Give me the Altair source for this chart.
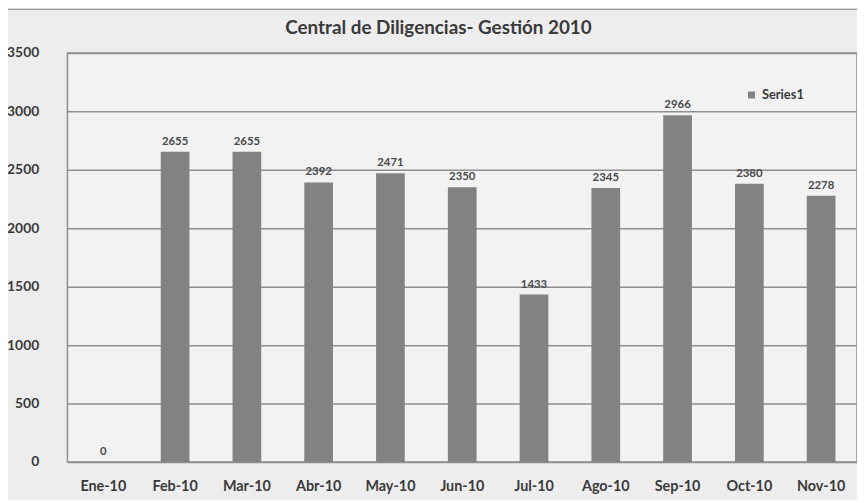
import altair as alt
import pandas as pd

months = ["Ene-10", "Feb-10", "Mar-10", "Abr-10", "May-10", "Jun-10",
          "Jul-10", "Ago-10", "Sep-10", "Oct-10", "Nov-10"]
values = [0, 2655, 2655, 2392, 2471, 2350, 1433, 2345, 2966, 2380, 2278]
series = ["Series1"] * len(months)
y_ticks = [0, 500, 1000, 1500, 2000, 2500, 3000, 3500]

df = pd.DataFrame({"mes": months, "valor": values, "serie": series})

FONT = "Lato"
TXT = "#3a3a3a"

base = alt.Chart(df).encode(
    x=alt.X("mes:N", sort=months, title=None,
            scale=alt.Scale(paddingInner=0.6, paddingOuter=0.3),
            axis=alt.Axis(labelAngle=0, labelFont=FONT, labelFontSize=14.5,
                          labelFontWeight="bold", labelColor=TXT,
                          labelPadding=18, ticks=False, domain=False, grid=False)),
)

bars = base.mark_bar().encode(
    y=alt.Y("valor:Q", title=None,
            scale=alt.Scale(domain=[0, 3500], nice=False),
            axis=alt.Axis(values=y_ticks, format="d", labelFont=FONT, labelFontSize=14,
                          labelFontWeight="bold", labelColor=TXT,
                          labelPadding=29, ticks=False, domain=False,
                          grid=True, gridColor="#8e8e8e", gridWidth=1.5)),
    color=alt.Color("serie:N", title=None,
                    scale=alt.Scale(range=["#828282"]),
                    legend=alt.Legend(orient="none", legendX=684, legendY=36,
                                      symbolType="square", symbolSize=50,
                                      labelFont=FONT, labelFontSize=13,
                                      labelFontWeight="bold", labelColor=TXT)),
)

labels = base.mark_text(dy=-10, font=FONT, fontSize=11.5, fontWeight="bold",
                        color="#4a4a4a").encode(
    y=alt.Y("valor:Q"),
    text=alt.Text("valor:Q"),
)

frame_df = pd.DataFrame({"k": [0]})
left_border = alt.Chart(frame_df).mark_rule(color="#7a7a7a", strokeWidth=1.5).encode(
    x=alt.value(-61), y=alt.value(-44), y2=alt.value(460))
top_border = alt.Chart(frame_df).mark_rule(color="#9a9a9a", strokeWidth=1.2).encode(
    x=alt.value(-61), x2=alt.value(810), y=alt.value(-44))

chart = alt.layer(bars, labels, left_border, top_border).properties(
    width=797,
    height=413,
    padding={"left": 60, "top": 43, "right": 0, "bottom": 36},
    autosize=alt.AutoSizeParams(type="none"),
    background="#ededed",
    title=alt.TitleParams("Central de Diligencias- Gestión 2010", font=FONT,
                          fontSize=19, fontWeight="bold", color=TXT,
                          anchor="middle", offset=-30, dx=-24),
).configure_view(stroke="#8e8e8e", strokeWidth=1.5, fill="#f2f2f2")

chart.save("out.html", embed_options={"renderer": "svg", "actions": False})
